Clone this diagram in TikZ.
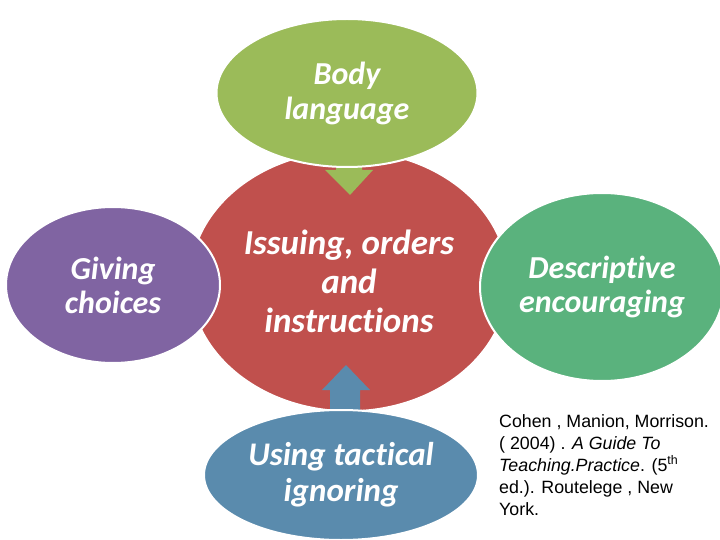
\documentclass[tikz,border=0pt]{standalone}
\usepackage{fontspec}
\setmainfont{Carlito}[Ligatures=NoCommon]
\newfontfamily\citefont{Liberation Sans}
\definecolor{cred}{HTML}{C0504D}
\definecolor{cgreen}{HTML}{9BBB59}
\definecolor{cpurple}{HTML}{8064A2}
\definecolor{cteal}{HTML}{5AB27D}
\definecolor{cblue}{HTML}{5A8BAD}
\tikzset{
  bubble/.style={ellipse, draw=white, line width=2pt, text=white, align=center,
    font=\bfseries\itshape, inner sep=0pt},
}
\usetikzlibrary{shapes.geometric}
\begin{document}
\begin{tikzpicture}[x=1pt,y=-1pt]
\useasboundingbox (0,0) rectangle (720,540);
\clip (0,0) rectangle (720,540);
% central circle
\node[bubble, fill=cred, minimum width=318pt, minimum height=260pt, line width=1.5pt,
  font=\fontsize{35}{39}\selectfont\bfseries\itshape] (center) at (349,281) {Issuing, orders\\and\\instructions};
% green arrow (down)
\fill[cgreen] (336,160) -- (362,160) -- (362,170) -- (373,170) -- (350,195) -- (325,170) -- (336,170) -- cycle;
% blue arrow (up)
\fill[cblue] (330,410) -- (330,390) -- (322,390) -- (346,365) -- (370,390) -- (360,390) -- (360,410) -- cycle;
% satellites
\node[bubble, fill=cgreen, minimum width=261pt, minimum height=148pt,
  font=\fontsize{32}{35}\selectfont\bfseries\itshape] (body) at (347,93) {Body\\language};
\node[bubble, fill=cpurple, minimum width=214pt, minimum height=156pt,
  font=\fontsize{32}{34}\selectfont\bfseries\itshape] (giving) at (113,285) {Giving\\choices};
\node[bubble, fill=cteal, minimum width=244pt, minimum height=188pt,
  font=\fontsize{32}{34}\selectfont\bfseries\itshape] (desc) at (602,287) {Descriptive\\encouraging};
\node[bubble, fill=cblue, minimum width=274pt, minimum height=130pt,
  font=\fontsize{33}{36}\selectfont\bfseries\itshape] (ignore) at (341,475) {Using tactical\\ignoring};
% citation
\node[anchor=north west, align=left, inner sep=0pt, text=black,
  font=\citefont\fontsize{17.8}{22}\selectfont] (cite) at (499,414)
  {Cohen , Manion, Morrison.\\( 2004) . \textit{A Guide To}\\\textit{Teaching.Practice}. (5\textsuperscript{th}\\ed.). Routelege , New\\York.};
\end{tikzpicture}
\end{document}
